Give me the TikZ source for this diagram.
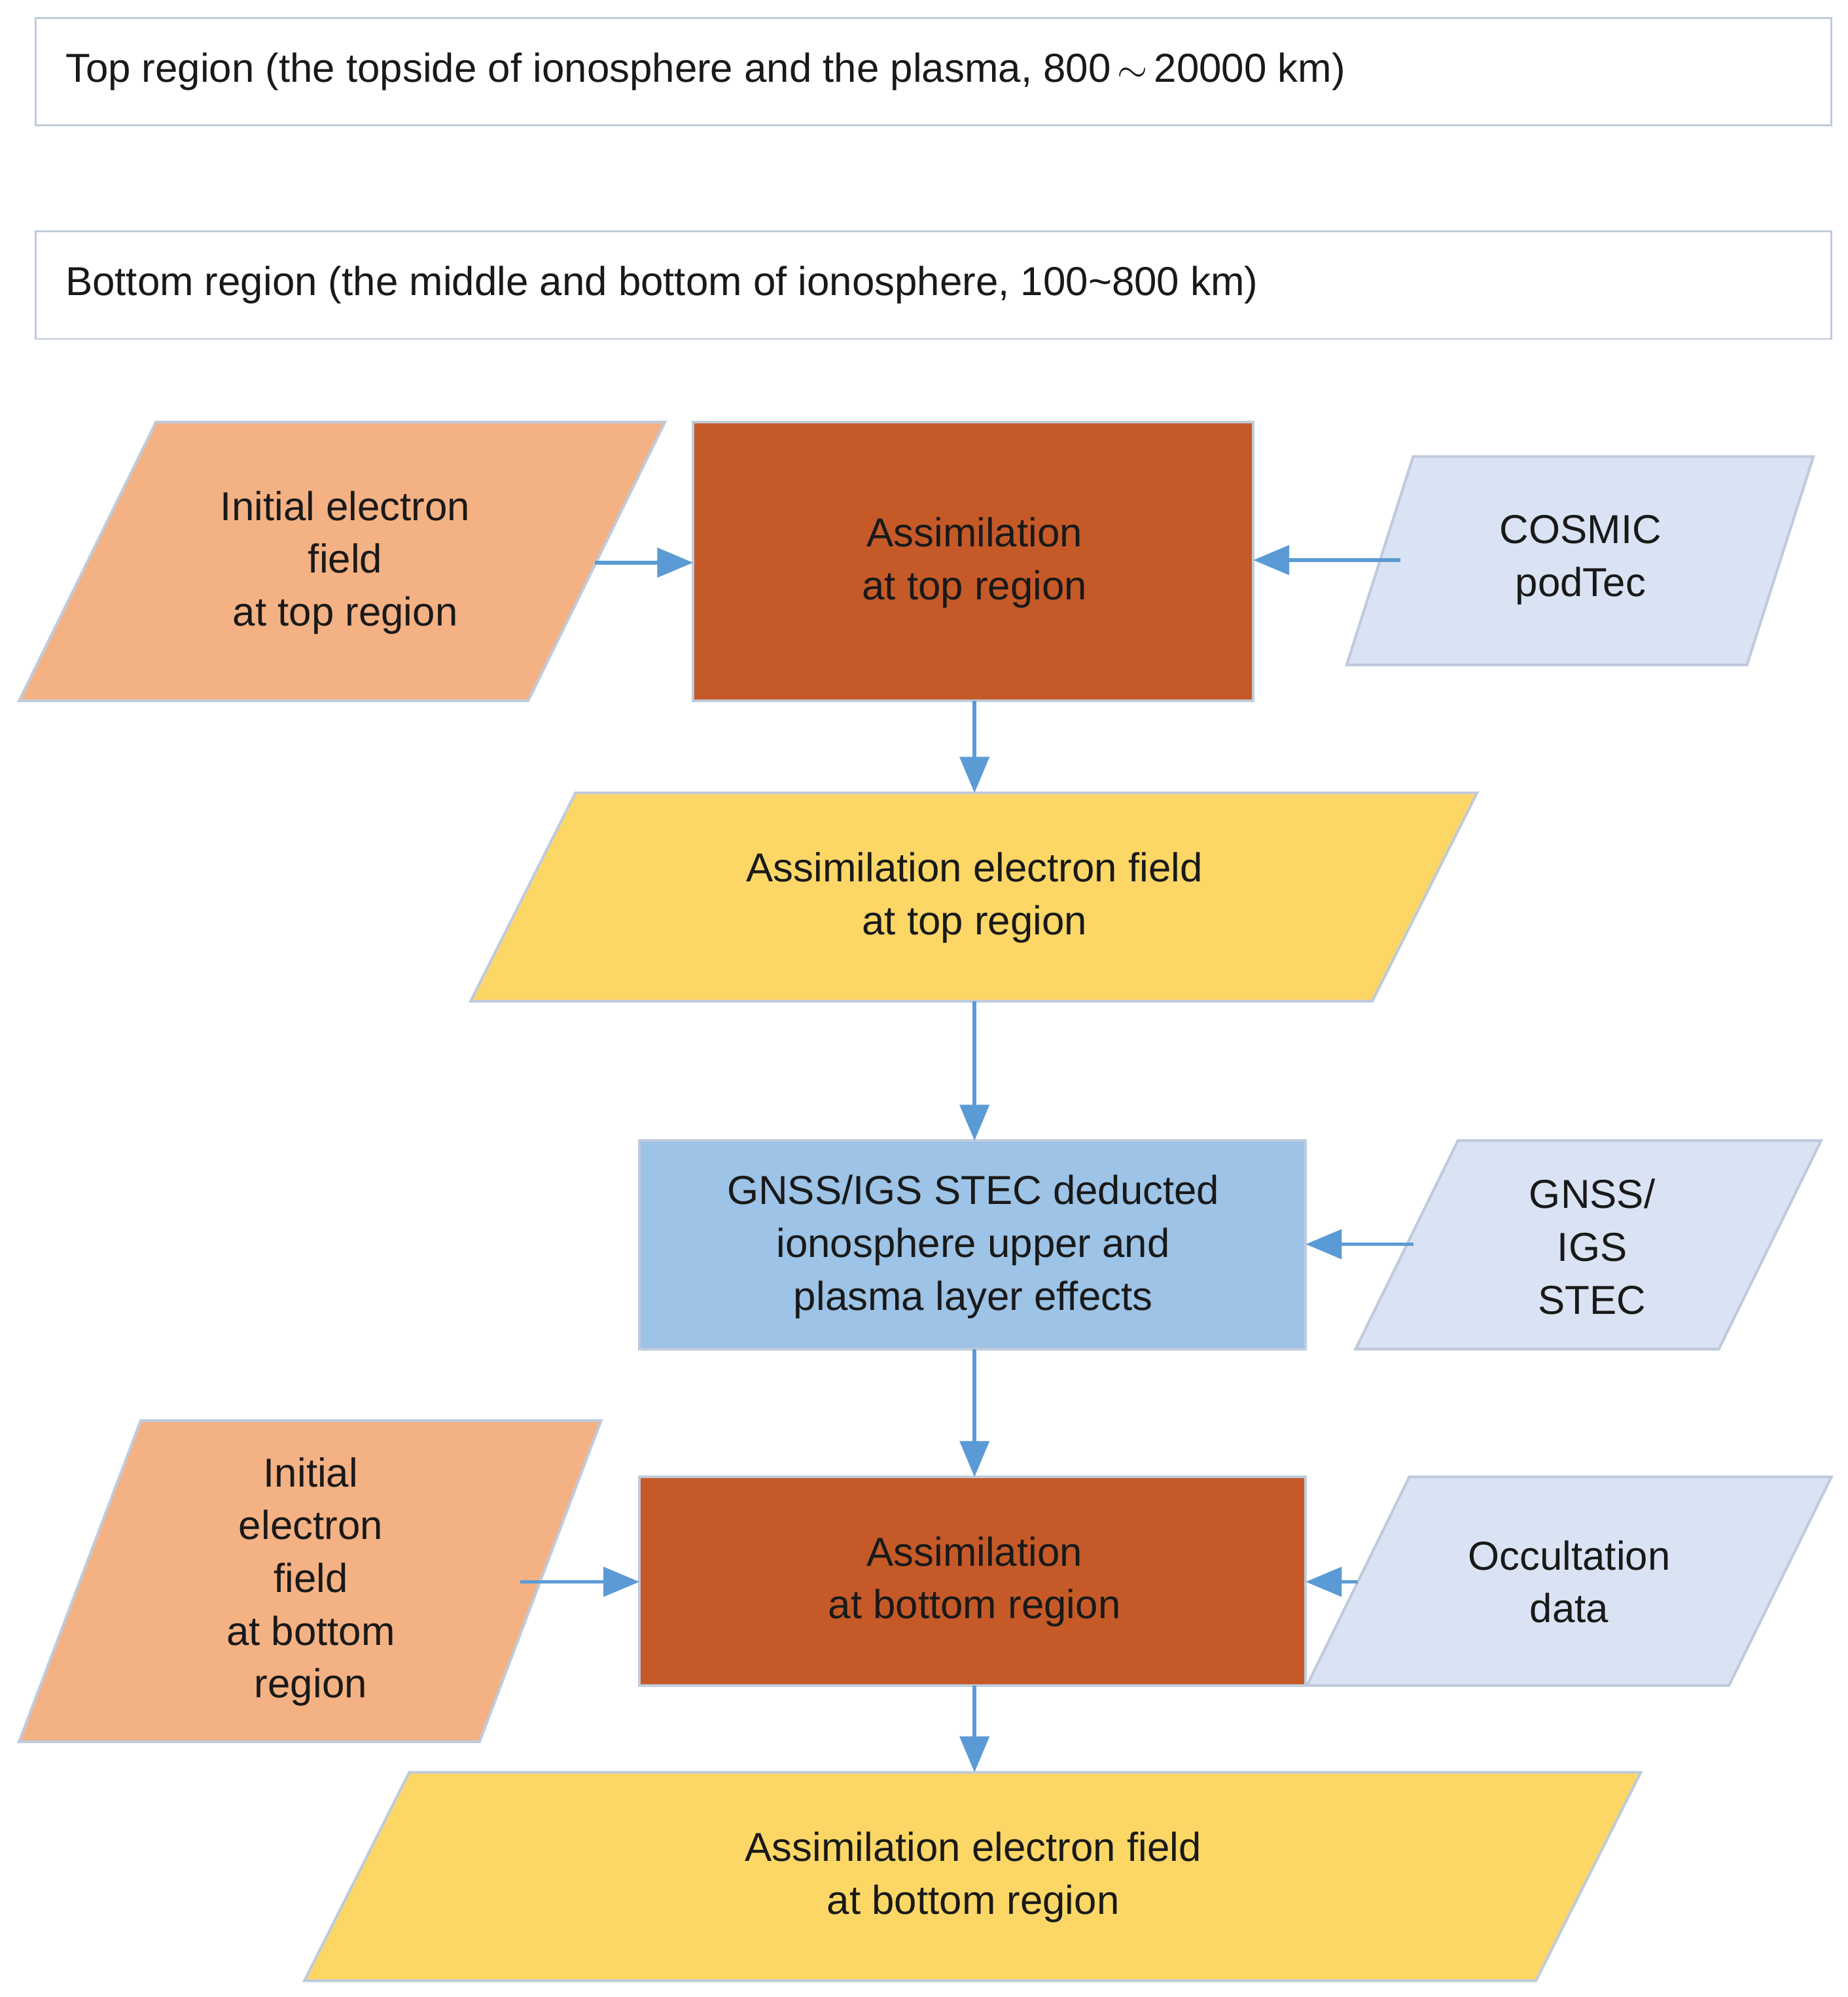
\documentclass[tikz,border=0pt]{standalone}
\usepackage{fontspec}
\setmainfont{Liberation Sans}
\usetikzlibrary{arrows.meta}
\definecolor{bd}{HTML}{BFCBDC}
\definecolor{ora}{HTML}{F4B183}
\definecolor{rust}{HTML}{C55A28}
\definecolor{yel}{HTML}{FCD766}
\definecolor{lblue}{HTML}{9DC3E6}
\definecolor{pale}{HTML}{DAE3F3}
\definecolor{arr}{HTML}{5B9BD5}
\tikzset{
 shp/.style={draw=bd,line width=1.2pt},
 txt/.style={align=center,font=\fontsize{18}{23.5}\selectfont,text=black!90},
 ar/.style={draw=arr,line width=1.6pt,-{Triangle[length=16pt,width=13pt]}}
}
\newcommand{\para}[8]{% name, xTL, xTR, yT, xBL, xBR, yB, fill
 \draw[shp,fill=#8] (#2,#4) -- (#3,#4) -- (#6,#7) -- (#5,#7) -- cycle;}
\begin{document}
\begin{tikzpicture}[x=0.02cm,y=-0.02cm]
\useasboundingbox (0,0) rectangle (1445,1561.7);
\draw[shp,line width=0.8pt] (28,14) rectangle (1432,98);
\node[txt,anchor=west] (topr) at (45,56) {Top region (the topside of ionosphere and the plasma, 800$\,\sim\,$20000 km)};
\draw[shp,line width=0.8pt] (28,181) rectangle (1432,265);
\node[txt,anchor=west] (botr) at (45,223) {Bottom region (the middle and bottom of ionosphere, 100\textasciitilde800 km)};
% shapes
\para{o1}{122}{520}{330}{15}{413}{548}{ora}
\draw[shp,fill=rust] (542,330) rectangle (980,548);
\para{c1}{1105}{1418}{357}{1053}{1366}{520}{pale}
\para{y1}{450}{1155}{620}{368}{1073}{783}{yel}
\draw[shp,fill=lblue] (500,892) rectangle (1021,1055);
\para{g1}{1140}{1424}{892}{1060}{1344}{1055}{pale}
\para{o2}{110}{470}{1111}{15}{375}{1362}{ora}
\draw[shp,fill=rust] (500,1155) rectangle (1021,1318);
\para{oc}{1102}{1432}{1155}{1022}{1352}{1318}{pale}
\para{y2}{320}{1283}{1386}{238}{1201}{1549}{yel}
% texts
\node[txt] (ini1) at (270,440) {Initial electron\\field\\ at top region};
\node[txt] (at) at (762,440) {Assimilation\\at top region};
\node[txt] (cos) at (1236,438) {COSMIC\\podTec};
\node[txt] (ay1) at (762,702) {Assimilation electron field\\at top region};
\node[txt] (gn) at (761,975) {GNSS/IGS STEC deducted\\ionosphere upper and\\plasma layer effects};
\node[txt] (gs) at (1245,975) {GNSS/\\IGS\\STEC};
\node[txt] (ini2) at (243,1237) {Initial\\electron\\field\\at bottom\\region};
\node[txt] (ab) at (762,1237) {Assimilation\\at bottom region};
\node[txt] (occ) at (1227,1237) {Occultation\\data};
\node[txt] (ay2) at (761,1468) {Assimilation electron field\\at bottom region};
% connector anchors
\coordinate (a1s) at (465,440); \coordinate (a1e) at (542,440);
\coordinate (a2s) at (1095,438); \coordinate (a2e) at (980,438);
\coordinate (a3s) at (762,548); \coordinate (a3e) at (762,620);
\coordinate (a4s) at (762,783); \coordinate (a4e) at (762,892);
\coordinate (a5s) at (1105,973); \coordinate (a5e) at (1021,973);
\coordinate (a6s) at (762,1055); \coordinate (a6e) at (762,1155);
\coordinate (a7s) at (407,1237); \coordinate (a7e) at (500,1237);
\coordinate (a8s) at (1062,1237); \coordinate (a8e) at (1021,1237);
\coordinate (a9s) at (762,1318); \coordinate (a9e) at (762,1386);
\foreach \i in {1,...,9} \draw[ar] (a\i s) -- (a\i e);
\end{tikzpicture}
\end{document}
